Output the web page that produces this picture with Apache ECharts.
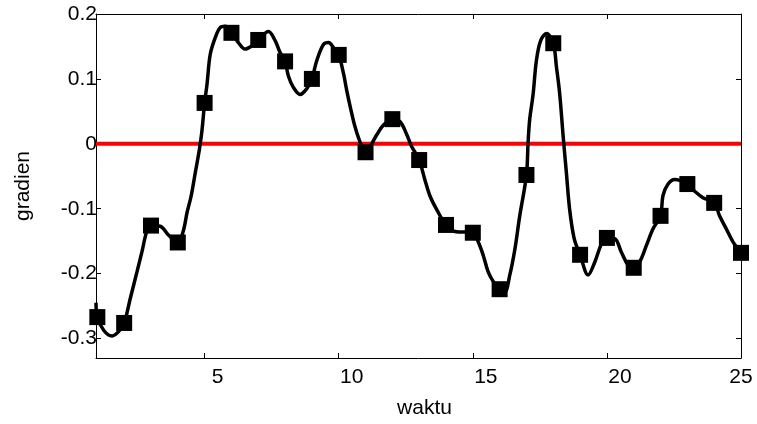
<!DOCTYPE html>
<html>
<head>
<meta charset="utf-8">
<script src="https://cdn.jsdelivr.net/npm/echarts@6/dist/echarts.min.js"></script>
<style>
  html, body { margin: 0; padding: 0; background: #ffffff; }
  #chart { width: 757px; height: 424px; }
</style>
</head>
<body>
<div id="chart"></div>
<script>
// Sample instants (waktu) and the gradient measured at each one
const sampleX = [1, 2, 3, 4, 5, 6, 7, 8, 9, 10, 11, 12, 13, 14, 15, 16, 17, 18, 19, 20, 21, 22, 23, 24, 25];
const sampleY = [-0.267, -0.276, -0.126, -0.152, 0.063, 0.171, 0.160, 0.127, 0.100, 0.137,
                 -0.013, 0.038, -0.025, -0.125, -0.137, -0.224, -0.048, 0.155, -0.171, -0.145,
                 -0.191, -0.111, -0.062, -0.091, -0.168];

// Continuous gradient trace between the samples
const traceX = [0.95, 1.0, 1.25, 1.55, 1.8, 2.0, 2.23, 2.48, 2.66, 2.85, 3.0, 3.34, 3.66, 4.0,
                4.2, 4.35, 4.5, 4.65, 4.8, 4.9, 5.0, 5.09, 5.21, 5.4, 5.58, 5.77, 6.0,
                6.26, 6.51, 6.76, 7.0, 7.38, 7.63, 7.81, 8.0, 8.12, 8.31, 8.56, 8.81, 9.0,
                9.18, 9.43, 9.62, 9.81, 10.0, 10.18, 10.3, 10.43, 10.59, 10.74, 10.86, 11.0,
                11.17, 11.42, 11.67, 12.0, 12.29, 12.54, 12.72, 13.0, 13.21, 13.4, 13.65, 14.0,
                14.33, 15.0, 15.2, 15.39, 15.57, 15.76, 16.0, 16.19, 16.38, 16.57, 16.75, 17.0,
                17.06, 17.12, 17.25, 17.37, 17.53, 17.75, 18.0, 18.12, 18.24, 18.37, 18.49, 18.61,
                18.78, 19.0, 19.3, 19.55, 19.8, 20.0, 20.29, 20.54, 20.79, 21.0, 21.22, 21.47,
                21.72, 22.0, 22.09, 22.28, 22.53, 23.0, 23.27, 23.58, 24.0, 24.2, 24.45, 24.7, 25.0];
const traceY = [-0.245, -0.267, -0.288, -0.296, -0.289, -0.276, -0.238, -0.197, -0.167, -0.134, -0.126, -0.127, -0.141, -0.152,
                -0.135, -0.105, -0.080, -0.045, -0.010, 0.020, 0.063, 0.092, 0.138, 0.164, 0.179, 0.181, 0.171,
                0.156, 0.146, 0.151, 0.160, 0.173, 0.159, 0.141, 0.127, 0.105, 0.087, 0.076, 0.085, 0.100,
                0.128, 0.153, 0.156, 0.148, 0.137, 0.108, 0.082, 0.057, 0.029, 0.009, -0.003, -0.013,
                -0.004, 0.014, 0.029, 0.038, 0.034, 0.014, -0.004, -0.025, -0.055, -0.080, -0.101, -0.125,
                -0.135, -0.137, -0.151, -0.172, -0.197, -0.212, -0.224, -0.228, -0.202, -0.162, -0.111, -0.048,
                0.001, 0.037, 0.077, 0.128, 0.159, 0.170, 0.155, 0.118, 0.077, 0.011, -0.045, -0.101,
                -0.146, -0.171, -0.202, -0.182, -0.154, -0.145, -0.146, -0.167, -0.187, -0.191, -0.182, -0.157,
                -0.131, -0.111, -0.080, -0.062, -0.055, -0.062, -0.073, -0.083, -0.091, -0.111, -0.131, -0.151, -0.168];

// Axis ranges and tick labels
const xRange = [0.95, 25];
const yRange = [-0.33, 0.2];
const xTicks = [5, 10, 15, 20, 25];
const yTicks = [-0.3, -0.2, -0.1, 0, 0.1, 0.2];
const referenceLevel = 0;

const FONT = '"Liberation Sans", Arial, Helvetica, sans-serif';

const chart = echarts.init(document.getElementById('chart'), null, { renderer: 'canvas' });

const frameLine = { show: true, onZero: false, lineStyle: { color: '#000', width: 1 } };
const inTicks = (vals) => ({ show: true, inside: true, length: 5, customValues: vals, lineStyle: { color: '#000', width: 1 } });

chart.setOption({
  animation: false,
  backgroundColor: '#ffffff',
  grid: { left: 96, right: 16, top: 14, bottom: 63, containLabel: false },
  xAxis: [
    {
      type: 'value', min: xRange[0], max: xRange[1], position: 'bottom',
      name: 'waktu', nameLocation: 'middle', nameGap: 40,
      nameTextStyle: { fontFamily: FONT, fontSize: 21, color: '#000', padding: [0, 0, 0, 12] },
      axisLine: frameLine, axisTick: inTicks(xTicks), splitLine: { show: false },
      axisLabel: {
        customValues: xTicks, margin: 9,
        fontFamily: FONT, fontSize: 21, color: '#000',
        formatter: v => (v === 25 ? '{e|' + v + '}' : '{s|' + v + '}'),
        rich: {
          s: { fontFamily: FONT, fontSize: 21, color: '#000', padding: [0, 0, 0, 26] },
          e: { fontFamily: FONT, fontSize: 21, color: '#000' }
        }
      }
    },
    {
      type: 'value', min: xRange[0], max: xRange[1], position: 'top',
      axisLine: frameLine, axisTick: inTicks(xTicks),
      axisLabel: { show: false }, splitLine: { show: false }
    }
  ],
  yAxis: [
    {
      type: 'value', min: yRange[0], max: yRange[1], position: 'left',
      name: 'gradien', nameLocation: 'middle', nameGap: 62, nameRotate: 90,
      nameTextStyle: { fontFamily: FONT, fontSize: 21, color: '#000' },
      axisLine: frameLine, axisTick: inTicks(yTicks), splitLine: { show: false },
      axisLabel: {
        customValues: yTicks, margin: -1,
        fontFamily: FONT, fontSize: 21, color: '#000',
        formatter: v => String(v)
      }
    },
    {
      type: 'value', min: yRange[0], max: yRange[1], position: 'right',
      axisLine: frameLine, axisTick: inTicks(yTicks),
      axisLabel: { show: false }, splitLine: { show: false }
    }
  ],
  series: [
    {
      name: 'nol', type: 'line', z: 1,
      data: [[xRange[0], referenceLevel], [xRange[1], referenceLevel]],
      showSymbol: false, silent: true,
      lineStyle: { color: '#ff0000', width: 4 }
    },
    {
      name: 'kurva', type: 'line', z: 2, smooth: 0.35, clip: true,
      data: traceX.map((x, i) => [x, traceY[i]]),
      showSymbol: false, silent: true,
      lineStyle: { color: '#000000', width: 3.5 }
    },
    {
      name: 'sampel', type: 'scatter', z: 3,
      data: sampleX.map((x, i) => [x, sampleY[i]]),
      symbol: 'rect', symbolSize: 16,
      itemStyle: { color: '#000000', opacity: 1 }
    }
  ]
});
</script>
</body>
</html>
